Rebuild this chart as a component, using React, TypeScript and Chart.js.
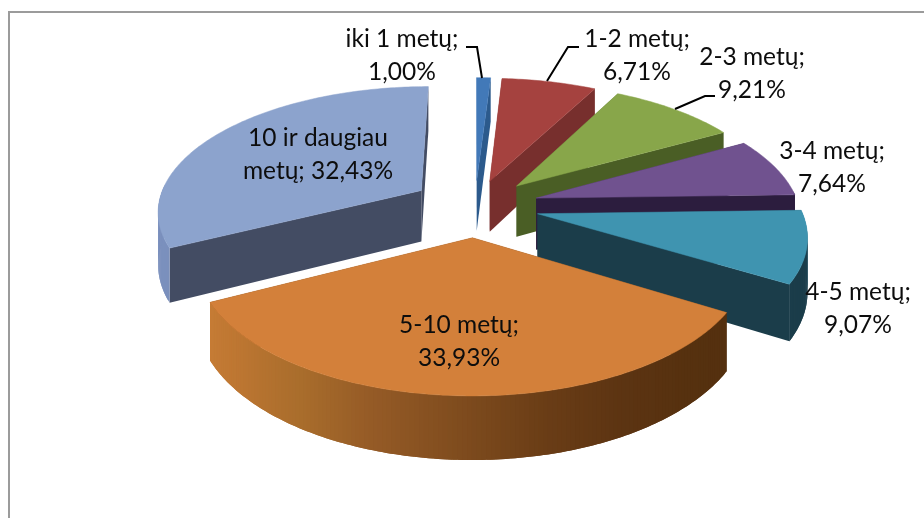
import React, { useEffect, useRef } from "react";
import { Chart, registerables } from "chart.js";

Chart.register(...registerables);

// --- data -------------------------------------------------------------
const categories = ["iki 1 metų", "1-2 metų", "2-3 metų", "3-4 metų", "4-5 metų", "5-10 metų", "10 ir daugiau metų"];
const shares = [1.0, 6.71, 9.21, 7.64, 9.07, 33.93, 32.43];

// --- style ------------------------------------------------------------
const topColors = ["#4279b8", "#a5423f", "#88a64a", "#70528f", "#3f94b0", "#d3803a", "#8ca3cd"];
const sideColors = ["#2c5a8c", "#772f2d", "#4a5e25", "#2c1d3e", "#1b3d4a", "#54300f", "#434c63"];
const explode = [38.5, 38.5, 41.8, 43.9, 43.9, 44.6, 44];
const radiusScale = [1, 1, 0.985, 0.98, 0.98, 0.98, 0.985];
const rimStops: string[][] = [
  ["#2c5a8c"],
  ["#772f2d"],
  ["#4a5e25"],
  ["#2c1d3e"],
  ["#3f94b0", "#3f94b0", "#1b3d4a", "#1b3d4a", "#1b3d4a", "#1b3d4a"],
  ["#54300f", "#56310f", "#5c3412", "#6a3d16", "#7f4c1e", "#945a26", "#a96d2c", "#bb7531", "#c67c35"],
  ["#7b90bd", "#7b90bd", "#7b90bd"],
];

// --- layout -----------------------------------------------------------
const CANVAS_W = 924;
const CANVAS_H = 518;
const FONT = '24.5px Lato, "Open Sans", sans-serif';
const PLANE_R = 268;
const TILT = 0.47;
const PERSP = 0.15 / 260;
const DEPTH = 52;
const labelCentres = [
  [402, 39], [637, 39], [752, 57], [832, 151], [858, 292], [459, 325], [318, 138],
];
const LINE_GAP = 33;
const leaders: number[][][] = [
  [[466, 47], [477, 47], [482, 78]],
  [[579, 47], [568, 47], [547, 81]],
  [[715, 96], [705, 96], [675, 109]],
];

const hex = (c: string) => [1, 3, 5].map((i) => parseInt(c.slice(i, i + 2), 16));
const mixStops = (stops: string[], t: number) => {
  if (stops.length === 1) return stops[0];
  const p = Math.min(Math.max(t, 0), 1) * (stops.length - 1);
  const i = Math.min(Math.floor(p), stops.length - 2);
  const a = hex(stops[i]);
  const b = hex(stops[i + 1]);
  const f = p - i;
  return `rgb(${a.map((v, k) => Math.round(v + (b[k] - v) * f)).join(",")})`;
};

const labelLines = (cat: string, v: number) => {
  const pct = `${v.toFixed(2).replace(".", ",")}%`;
  const words = cat.split(" ");
  if (words.length > 3) {
    return [words.slice(0, -1).join(" "), `${words[words.length - 1]}; ${pct}`];
  }
  return [`${cat};`, pct];
};

const pie3d = {
  id: "pie3d",
  beforeDatasetsDraw(chart: any) {
    const ctx: CanvasRenderingContext2D = chart.ctx;
    const meta = chart.getDatasetMeta(0);

    ctx.save();
    ctx.fillStyle = "#ffffff";
    ctx.fillRect(0, 0, CANVAS_W, CANVAS_H);
    ctx.strokeStyle = "#9b9b9b";
    ctx.lineWidth = 2;
    ctx.beginPath();
    ctx.moveTo(9, CANVAS_H);
    ctx.lineTo(9, 12);
    ctx.lineTo(CANVAS_W, 12);
    ctx.stroke();

    const order = meta.data
      .map((el: any, i: number) => ({ el, i, mid: (el.startAngle + el.endAngle) / 2 + Math.PI / 2 }))
      .sort((a: any, b: any) => -Math.cos(a.mid) - -Math.cos(b.mid));

    for (const { el, i, mid } of order) {
      const unit = PLANE_R / el.outerRadius;
      const off = el.options.offset * unit;
      const ox = off * Math.sin(mid);
      const oy = -off * Math.cos(mid);
      const radius = PLANE_R * radiusScale[i];
      const cx = el.x;
      const cy = el.y;
      const project = (X: number, Y: number, z: number) => {
        const s = 1 / (1 - PERSP * Y);
        return [cx + X * s, cy + (Y * TILT + z) * s];
      };
      const a0 = el.startAngle + Math.PI / 2;
      const a1 = el.endAngle + Math.PI / 2;
      const steps = Math.max(6, Math.ceil((a1 - a0) / 0.015));
      const rimAt = (th: number, z: number) =>
        project(ox + radius * Math.sin(th), oy - radius * Math.cos(th), z);

      const quad = (p: number[], q: number[], r: number[], w: number[], color: string) => {
        ctx.fillStyle = color;
        ctx.beginPath();
        ctx.moveTo(p[0], p[1]);
        ctx.lineTo(q[0], q[1]);
        ctx.lineTo(r[0], r[1]);
        ctx.lineTo(w[0], w[1]);
        ctx.closePath();
        ctx.fill();
      };

      const apexTop = project(ox, oy, 0);
      const apexBot = project(ox, oy, DEPTH);
      quad(apexTop, rimAt(a0, 0), rimAt(a0, DEPTH), apexBot, sideColors[i]);
      quad(apexTop, rimAt(a1, 0), rimAt(a1, DEPTH), apexBot, sideColors[i]);

      // rim: every strip reaches over the next one, so no seams show
      for (let k = 0; k < steps; k++) {
        const t0 = a0 + ((a1 - a0) * k) / steps;
        const t1 = a0 + ((a1 - a0) * Math.min(k + 2, steps)) / steps;
        if (-Math.cos((t0 + t1) / 2) < -0.05) continue;
        const color = mixStops(rimStops[i], (k + 0.5) / steps);
        ctx.fillStyle = color;
        ctx.beginPath();
        let p = rimAt(t0, 0);
        ctx.moveTo(p[0], p[1]);
        p = rimAt((t0 + t1) / 2, 0);
        ctx.lineTo(p[0], p[1]);
        p = rimAt(t1, 0);
        ctx.lineTo(p[0], p[1]);
        p = rimAt(t1, DEPTH);
        ctx.lineTo(p[0], p[1]);
        p = rimAt((t0 + t1) / 2, DEPTH);
        ctx.lineTo(p[0], p[1]);
        p = rimAt(t0, DEPTH);
        ctx.lineTo(p[0], p[1]);
        ctx.closePath();
        ctx.fill();
      }

      ctx.fillStyle = topColors[i];
      ctx.strokeStyle = topColors[i];
      ctx.lineWidth = 0.5;
      ctx.beginPath();
      ctx.moveTo(apexTop[0], apexTop[1]);
      for (let k = 0; k <= steps; k++) {
        const p = rimAt(a0 + ((a1 - a0) * k) / steps, 0);
        ctx.lineTo(p[0], p[1]);
      }
      ctx.closePath();
      ctx.fill();
      ctx.stroke();
    }

    ctx.strokeStyle = "#000000";
    ctx.lineWidth = 2;
    for (const path of leaders) {
      ctx.beginPath();
      path.forEach((p, k) => (k ? ctx.lineTo(p[0], p[1]) : ctx.moveTo(p[0], p[1])));
      ctx.stroke();
    }

    ctx.fillStyle = "#0d0d0d";
    ctx.font = FONT;
    ctx.textAlign = "center";
    ctx.textBaseline = "middle";
    categories.forEach((cat, i) => {
      labelLines(cat, shares[i]).forEach((line, k) => {
        ctx.fillText(line, labelCentres[i][0], labelCentres[i][1] + k * LINE_GAP);
      });
    });
    ctx.restore();
    return false;
  },
};

export default function App() {
  const ref = useRef<HTMLCanvasElement>(null);
  useEffect(() => {
    const chart = new Chart(ref.current as HTMLCanvasElement, {
      type: "pie",
      data: {
        labels: categories,
        datasets: [{ data: shares, backgroundColor: topColors, borderWidth: 0, offset: explode }],
      },
      options: {
        animation: false,
        responsive: false,
        layout: { padding: { left: 26, top: 0, right: 0, bottom: 106 } },
        plugins: { legend: { display: false }, tooltip: { enabled: false } },
      },
      plugins: [pie3d],
    } as any);
    return () => chart.destroy();
  }, []);
  return (
    <div style={{ position: "fixed", left: 0, top: 0, width: CANVAS_W, height: CANVAS_H }}>
      <canvas ref={ref} width={CANVAS_W} height={CANVAS_H} style={{ display: "block" }} />
    </div>
  );
}
